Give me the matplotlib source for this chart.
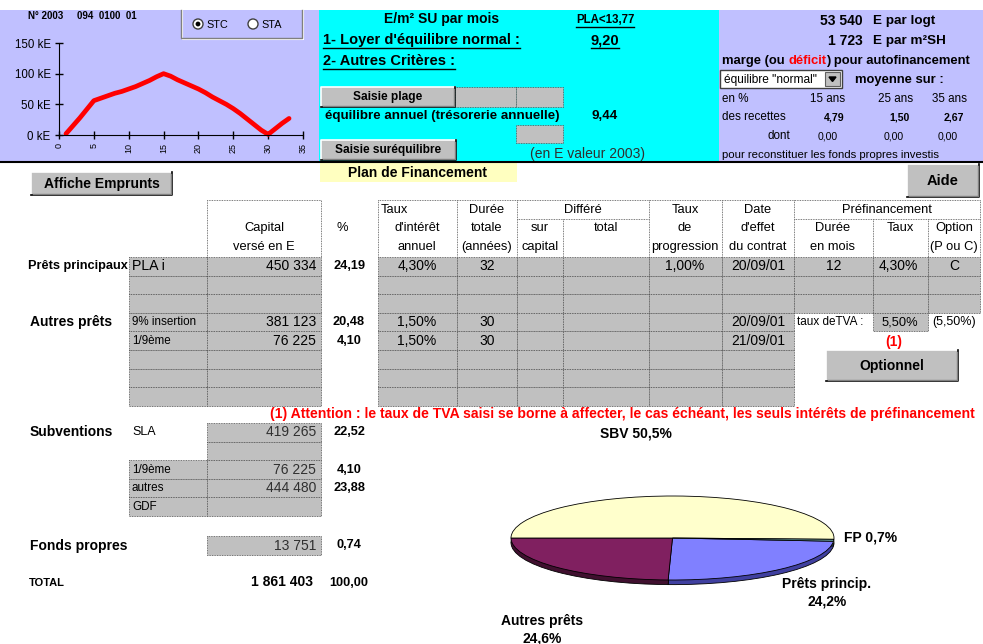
import matplotlib
matplotlib.use("Agg")
import matplotlib.pyplot as plt
from matplotlib.patches import Rectangle, Circle

plt.rcParams['font.family'] = ['Liberation Sans', 'DejaVu Sans']

# ---- donnees ----
dossier = "N° 2003     094  0100  01"
annees = list(range(1, 34))
tresorerie_ke = [2, 15, 28, 42, 56, 60, 64, 68, 71, 75, 79, 84, 89, 95, 100,
                 96, 90, 85, 80, 75, 69, 62, 56, 50, 43, 35, 26, 17, 8, 1,
                 10, 19, 27]
plafond_pla = 13.77
loyer_normal = 9.20
equilibre_annuel = 9.44
cout_logt = 53540
cout_m2 = 1723
horizons = [15, 25, 35]
marge_recettes = [4.79, 1.50, 2.67]
marge_dont = [0.00, 0.00, 0.00]

pret_labels = ["PLA i", "", "", "9% insertion", "1/9ème", "", "", ""]
pret_capital = [450334, None, None, 381123, 76225, None, None, None]
pret_taux = ["4,30%", "", "", "1,50%", "1,50%", "", "", ""]
pret_duree = ["32", "", "", "30", "30", "", "", ""]
pret_progression = ["1,00%", "", "", "", "", "", "", ""]
pret_date = ["20/09/01", "", "", "20/09/01", "21/09/01", "", "", ""]
prefin_duree = ["12", "", ""]
prefin_taux = ["4,30%", "", ""]
prefin_option = ["C", "", ""]
taux_tva = "5,50%"
taux_tva_ref = "(5,50%)"

subv_labels = ["SLA", "", "1/9ème", "autres", "GDF"]
subv_capital = [419265, None, 76225, 444480, None]
fonds_propres = 13751

pie_labels = ["Prêts princip.", "Autres prêts", "SBV", "FP"]
pie_colors = ["#8080FF", "#802060", "#FFFFCC", "#70A8A8"]
pie_sides = ["#4040A0", "#40102F", "#A0A070", "#406868"]


def fr_int(v):
    return f"{v:,}".replace(",", " ")


def fr_dec(v, n=2):
    return f"{v:.{n}f}".replace(".", ",")


total = sum(v for v in pret_capital + subv_capital if v) + fonds_propres
pie_values = [sum(v for v in pret_capital[:3] if v),
              sum(v for v in pret_capital[3:] if v),
              sum(v for v in subv_capital if v),
              fonds_propres]

W, H = 983, 644
fig = plt.figure(figsize=(W / 100, H / 100), dpi=100)
ax = fig.add_axes([0, 0, 1, 1])
ax.set_xlim(0, W)
ax.set_ylim(H, 0)
ax.axis("off")

LAV = "#C0C0FF"
GRAY = "#C0C0C0"
DOT = (0, (1, 1))


def txt(x, y, s, size=9.3, weight="normal", ha="left", color="black", z=6, **kw):
    return ax.text(x, y, s, fontsize=size, fontweight=weight, ha=ha, va="center",
                   color=color, zorder=z, **kw)


def extent(t):
    fig.canvas.draw()
    bb = t.get_window_extent().transformed(ax.transData.inverted())
    return min(bb.x0, bb.x1), max(bb.x0, bb.x1), max(bb.y0, bb.y1)


def text_width(s, size, weight):
    t = txt(100, 300, s, size, weight)
    x0, x1, _ = extent(t)
    t.remove()
    return x1 - x0


def underline(t, off=1.0):
    x0, x1, yb = extent(t)
    ax.plot([x0, x1], [yb + off] * 2, color="black", lw=1.0, zorder=6)


def cell(x0, y0, x1, y1, fc=GRAY, z=2):
    ax.add_patch(Rectangle((x0, y0), x1 - x0, y1 - y0, facecolor=fc,
                           edgecolor="#505050", lw=0.6, ls=DOT, zorder=z))


def dline(xs, ys):
    ax.plot(xs, ys, color="#505050", lw=0.6, ls=DOT, zorder=3)


def button(x0, y0, x1, y1, label, size=9.5):
    ax.add_patch(Rectangle((x0, y0), x1 - x0, y1 - y0, facecolor=GRAY,
                           edgecolor="none", zorder=3))
    ax.plot([x0, x0, x1], [y1, y0, y0], color="white", lw=1.2, zorder=4)
    ax.plot([x0, x1, x1], [y1, y1, y0], color="black", lw=1.2, zorder=4)
    ax.plot([x0 + 1.5, x1 - 1.5, x1 - 1.5], [y1 - 1.5, y1 - 1.5, y0 + 1.5],
            color="#808080", lw=1, zorder=4)
    txt((x0 + x1) / 2, (y0 + y1) / 2, label, size, "bold", ha="center")


# ---- bandeau du haut ----
ax.add_patch(Rectangle((0, 10), 319, 152, facecolor=LAV, edgecolor="none", zorder=1))
ax.add_patch(Rectangle((319, 10), 400, 152, facecolor="#00FFFF", edgecolor="none", zorder=1))
ax.add_patch(Rectangle((719, 10), W - 719, 152, facecolor=LAV, edgecolor="none", zorder=1))
ax.plot([0, W], [162, 162], color="black", lw=1.5, zorder=5)

txt(28, 16, dossier, 7, "bold")
ax.plot([181, 181, 302, 302], [10, 38, 38, 10], color="#808080", lw=1, zorder=3)
ax.plot([182, 182, 303, 303], [10, 39, 39, 10], color="white", lw=0.8, zorder=2)
for cxr, lab, on in [(198, "STC", True), (253, "STA", False)]:
    ax.add_patch(Circle((cxr, 24), 5, facecolor="white", edgecolor="#404040", lw=1, zorder=4))
    if on:
        ax.add_patch(Circle((cxr, 24), 2.4, facecolor="black", edgecolor="none", zorder=5))
    txt(cxr + 8, 24.5, lab, 7.8)

cax = fig.add_axes([59 / W, 1 - 135 / H, 244 / W, 92 / H])
cax.set_facecolor("none")
cax.plot(annees, tresorerie_ke, color="red", lw=3.4, solid_joinstyle="round",
         solid_capstyle="round", clip_on=False)
cax.set_xlim(0, 35)
cax.set_ylim(0, 150)
cax.spines["top"].set_visible(False)
cax.spines["right"].set_visible(False)
cax.set_xticks(range(0, 36, 5))
cax.set_xticklabels([str(v) for v in range(0, 36, 5)], rotation=90, fontsize=6.5)
cax.set_yticks([0, 50, 100, 150])
cax.set_yticklabels([f"{v} kE" for v in [0, 50, 100, 150]], fontsize=8.3)
cax.tick_params(direction="inout", length=6, width=1, pad=3)

# centre (cyan)
txt(442, 19, "E/m² SU par mois", 10, "bold", ha="center")
t = txt(605, 20, "PLA<" + fr_dec(plafond_pla), 8.3, "bold", ha="center")
underline(t)
t = txt(323, 40, "1- Loyer d'équilibre normal :", 10.5, "bold")
underline(t)
t = txt(605, 40, fr_dec(loyer_normal), 10.5, "bold", ha="center")
underline(t)
t = txt(323, 61, "2- Autres Critères :", 10.5, "bold")
underline(t)
button(321, 87, 455, 107, "Saisie plage", 8.6)
cell(455, 87, 516, 107)
cell(516, 87, 563, 107)
txt(325, 116, "équilibre annuel (trésorerie annuelle)", 9.6, "bold")
txt(605, 116, fr_dec(equilibre_annuel), 9.6, "bold", ha="center")
cell(516, 125, 563, 143)
button(321, 140, 456, 160, "Saisie suréquilibre", 8.6)
txt(588, 154, "(en E valeur 2003)", 10, color="#303030", ha="center")

# droite
txt(863, 21, fr_int(cout_logt), 10, "bold", ha="right")
txt(873, 21, "E par logt", 9.7, "bold")
txt(863, 41, fr_int(cout_m2), 10, "bold", ha="right")
txt(873, 41, "E par m²SH", 9.7, "bold")
space = text_width("a a", 9.4, "bold") - text_width("aa", 9.4, "bold")
t = txt(722, 61, "marge (ou", 9.4, "bold")
x1 = extent(t)[1] + space
t = txt(x1, 61, "déficit", 9.4, "bold", color="red")
x1 = extent(t)[1]
txt(x1, 61, ") pour autofinancement", 9.4, "bold")
ax.add_patch(Rectangle((720, 70), 122, 18, facecolor="white", edgecolor="#404040", lw=1, zorder=3))
txt(724, 79.5, "équilibre \"normal\"", 8.6)
ax.add_patch(Rectangle((825, 72), 15, 14, facecolor=GRAY, edgecolor="#606060", lw=0.8, zorder=4))
ax.fill([829, 836, 832.5], [77, 77, 81.5], color="black", zorder=5)
txt(855, 80, "moyenne sur :", 9.4, "bold")
txt(722, 99, "en %", 8.4)
txt(722, 117, "des recettes", 8.4)
txt(779, 136, "dont", 8.4, ha="center")
for xc, xv, h, m, d in zip([828, 896, 949], [834, 900, 954], horizons, marge_recettes, marge_dont):
    txt(xc, 99, f"{h} ans", 8.4, ha="center")
    txt(xv, 117, fr_dec(m), 7.6, "bold", ha="center")
    txt(xv - 6, 136, fr_dec(d), 7.6, ha="center")
txt(722, 155, "pour reconstituer les fonds propres investis", 8.2)

# ---- boutons et titre ----
button(31, 172, 172, 195, "Affiche Emprunts", 10)
ax.add_patch(Rectangle((320, 163), 197, 19, facecolor="#FFFFC0", edgecolor="none", zorder=2))
txt(418, 172.5, "Plan de Financement", 10, "bold", ha="center")
button(907, 164, 979, 197, "Aide", 10.5)

# ---- tableau des prets ----
top, hb, rh = 200, 257, 18.6
dline([207, 207, 321, 321], [257, 200, 200, 257])
txt(264, 228, "Capital", 9.3, ha="center")
txt(264, 247, "versé en E", 9.3, ha="center")
txt(342, 228, "%", 9.3, ha="center")

cols = [378, 457, 517, 563, 649, 722, 794, 873, 928, 980]
dline([378, 980], [200, 200])
for x in [378, 457, 517, 649, 722, 794, 980]:
    dline([x, x], [200, 257])
for x in [563, 873, 928]:
    dline([x, x], [219, 257])
dline([517, 649], [219, 219])
dline([794, 980], [219, 219])
txt(381, 210, "Taux", 9.3)
txt(417, 228, "d'intérêt", 9.3, ha="center")
txt(417, 247, "annuel", 9.3, ha="center")
for y, s in [(210, "Durée"), (228, "totale"), (247, "(années)")]:
    txt(487, y, s, 9.3, ha="center")
txt(583, 210, "Différé", 9.3, ha="center")
txt(540, 228, "sur", 9.3, ha="center")
txt(540, 247, "capital", 9.3, ha="center")
txt(606, 228, "total", 9.3, ha="center")
for y, s in [(210, "Taux"), (228, "de"), (247, "progression")]:
    txt(685, y, s, 9.3, ha="center")
for y, s in [(210, "Date"), (228, "d'effet"), (247, "du contrat")]:
    txt(758, y, s, 9.3, ha="center")
txt(887, 210, "Préfinancement", 9.3, ha="center")
txt(833, 228, "Durée", 9.3, ha="center")
txt(833, 247, "en mois", 9.3, ha="center")
txt(900, 228, "Taux", 9.3, ha="center")
txt(954, 228, "Option", 9.3, ha="center")
txt(954, 247, "(P ou C)", 9.3, ha="center")

txt(28, hb + rh / 2, "Prêts principaux", 9.2, "bold", z=1.5)
txt(30, hb + 3.5 * rh, "Autres prêts", 10, "bold")
for i in range(8):
    y0, y1 = hb + i * rh, hb + (i + 1) * rh
    yc = (y0 + y1) / 2
    cell(129, y0, 207, y1)
    cell(207, y0, 321, y1)
    ncols = len(cols) - 1 if i < 3 else 6
    for j in range(ncols):
        cell(cols[j], y0, cols[j + 1], y1)
    lab = pret_labels[i]
    if lab:
        txt(132, yc, lab, 10.2 if i == 0 else 8.4)
    if pret_capital[i]:
        txt(316, yc, fr_int(pret_capital[i]), 10, ha="right")
        txt(349, yc, fr_dec(100 * pret_capital[i] / total), 9.2, "bold", ha="center")
    for xc, vals in [(417, pret_taux), (487, pret_duree), (685, pret_progression), (758, pret_date)]:
        if vals[i]:
            txt(xc, yc, vals[i], 10, ha="center")
    if i < 3:
        for xc, vals in [(834, prefin_duree), (898, prefin_taux), (954, prefin_option)]:
            if vals[i]:
                txt(xc, yc, vals[i], 10, ha="center")

yt = hb + 3.5 * rh
txt(797, yt, "taux deTVA :", 8.5)
cell(873, hb + 3 * rh, 928, hb + 4 * rh)
txt(900, yt, taux_tva, 9.3, ha="center")
txt(954, yt, taux_tva_ref, 9, ha="center")
txt(894, 342, "(1)", 10, "bold", color="red", ha="center")
button(826, 350, 958, 381, "Optionnel", 10)

txt(975, 414, "(1) Attention : le taux de TVA saisi se borne à affecter, le cas échéant, "
    "les seuls intérêts de préfinancement", 10.1, "bold", color="red", ha="right")

# ---- subventions ----
s0 = 423
txt(30, s0 + rh / 2, "Subventions", 10, "bold")
for i in range(5):
    y0, y1 = s0 + i * rh, s0 + (i + 1) * rh
    yc = (y0 + y1) / 2
    cell(207, y0, 321, y1)
    if i >= 2:
        cell(129, y0, 207, y1)
    if subv_labels[i]:
        txt(132, yc, subv_labels[i], 9 if i == 0 else 8.4)
    if subv_capital[i]:
        txt(316, yc, fr_int(subv_capital[i]), 10, ha="right", color="#303030")
        txt(349, yc, fr_dec(100 * subv_capital[i] / total), 9.2, "bold", ha="center")

txt(30, 546, "Fonds propres", 10, "bold")
cell(207, 536, 321, 555)
txt(316, 545.5, fr_int(fonds_propres), 10, ha="right", color="#303030")
txt(349, 545.5, fr_dec(100 * fonds_propres / total), 9.2, "bold", ha="center")

txt(29, 583, "TOTAL", 8, "bold")
txt(313, 582.5, fr_int(total), 10, "bold", ha="right")
txt(349, 582.5, fr_dec(100.0), 9.2, "bold", ha="center")

# ---- camembert ----
cx, cy, rx, ry = 672.5, 538, 161.5, 42
xl, yl = (-1.03, 1.03), (-1.2, 1.04)
pax = fig.add_axes([(cx + xl[0] * rx) / W, 1 - (cy - yl[0] * ry) / H,
                    (xl[1] - xl[0]) * rx / W, (yl[1] - yl[0]) * ry / H])
start = 180 + 360 * (pie_values[0] + pie_values[1]) / sum(pie_values)
wp = dict(edgecolor="black", linewidth=0.6)
pax.pie(pie_values, colors=pie_sides, startangle=start, counterclock=False,
        center=(0, -0.11), wedgeprops=wp)
pax.pie(pie_values, colors=pie_colors, startangle=start, counterclock=False,
        wedgeprops=wp)
pax.set_aspect("auto")
pax.set_xlim(*xl)
pax.set_ylim(*yl)
pax.axis("off")

pct = [fr_dec(100 * v / sum(pie_values), 1) + "%" for v in pie_values]
txt(636, 433, f"{pie_labels[2]} {pct[2]}", 10, "bold", ha="center")
txt(844, 537, f"{pie_labels[3]} {pct[3]}", 10, "bold")
txt(827, 592.5, f"{pie_labels[0]}\n{pct[0]}", 10, "bold", ha="center", linespacing=1.35)
txt(542, 630, f"{pie_labels[1]}\n{pct[1]}", 10, "bold", ha="center", linespacing=1.35)

fig.savefig("out.png", dpi=100)
